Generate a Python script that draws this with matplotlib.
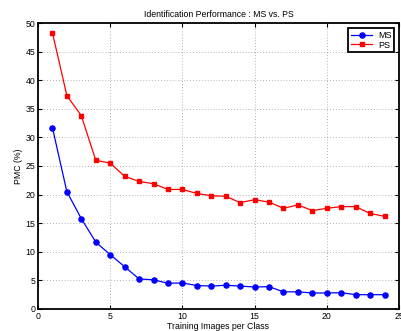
import numpy as np
import matplotlib
matplotlib.use("Agg")
import matplotlib.pyplot as plt

# data
images = list(range(1, 25))
ms = [31.7, 20.5, 15.8, 11.7, 9.5, 7.4, 5.25, 5.1, 4.5, 4.55, 4.1, 4.0,
      4.15, 4.0, 3.85, 3.9, 3.0, 3.0, 2.8, 2.8, 2.85, 2.5, 2.5, 2.5]
ps = [48.3, 37.3, 33.8, 26.0, 25.5, 23.2, 22.3, 21.9, 20.9, 20.9, 20.2, 19.8,
      19.7, 18.6, 19.1, 18.7, 17.6, 18.2, 17.2, 17.6, 17.9, 17.9, 16.7, 16.2]
xticks = [0, 5, 10, 15, 20, 25]
yticks = [0, 5, 10, 15, 20, 25, 30, 35, 40, 45, 50]

plt.rcParams['font.family'] = ['Liberation Sans', 'DejaVu Sans']
plt.rcParams['font.size'] = 6

fig = plt.figure(figsize=(4.02, 3.31), dpi=100)
ax = fig.add_axes([0.0945, 0.0665, 0.898, 0.864])

ax.plot(images, ms, '-o', color='#0000ff', lw=0.9, ms=3.7, label='MS')
ax.plot(images, ps, '-s', color='#ff0000', lw=0.9, ms=3.5, label='PS')

ax.set_xlim(0, 25)
ax.set_ylim(0, 50)
ax.set_xticks(xticks)
ax.set_yticks(yticks)
ax.grid(True, linestyle=(0, (1, 2.5)), color='#999999', lw=0.6)
ax.tick_params(direction='in', top=True, right=True, length=3, width=0.8, pad=2, labelsize=6.3)
for s in ax.spines.values():
    s.set_linewidth(1.3)

ax.set_title('Identification Performance : MS vs. PS', fontsize=6.3, pad=4)
ax.set_xlabel('Training Images per Class', fontsize=6.3, labelpad=1)
ax.set_ylabel('PMC (%)', fontsize=6.3, labelpad=2)

leg = ax.legend(loc='upper right', fancybox=False, fontsize=6.5, borderpad=0.25,
                handlelength=2.4, labelspacing=0.1, borderaxespad=0.6, handletextpad=0.6)
leg.get_frame().set_edgecolor('black')
leg.get_frame().set_linewidth(1.3)
leg.get_frame().set_alpha(1)

fig.savefig('out.png', dpi=100)
